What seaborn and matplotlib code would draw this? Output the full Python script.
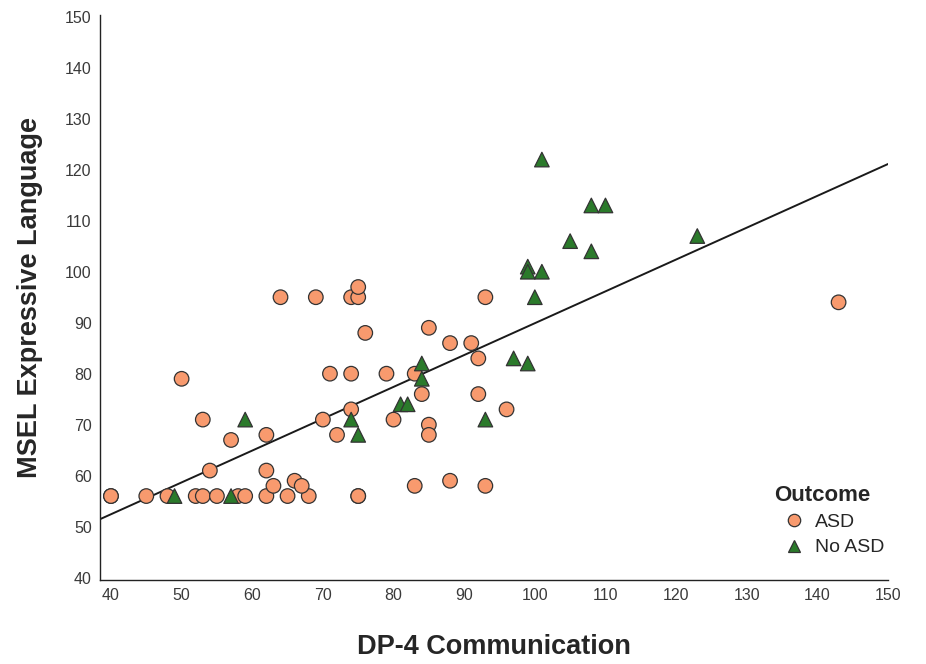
import numpy as np
import pandas as pd
import matplotlib
matplotlib.use('Agg')
import matplotlib.pyplot as plt
import seaborn as sns

# Valores (alguns pontos sobrepostos aparecem duas vezes)
asd_x = [40, 40, 45, 48, 52, 53, 55, 58, 59, 62, 65, 68, 75, 75,
         54, 62, 63, 66, 67, 83, 88, 93,
         64, 69, 74, 75, 75, 50, 53, 57, 62,
         76, 85, 88, 91, 92, 71, 74, 79, 83, 84, 92,
         74, 70, 80, 72, 85, 85, 96, 93, 143]
asd_y = [56, 56, 56, 56, 56, 56, 56, 56, 56, 56, 56, 56, 56, 56,
         61, 61, 58, 59, 58, 58, 59, 58,
         95, 95, 95, 95, 97, 79, 71, 67, 68,
         88, 89, 86, 86, 83, 80, 80, 80, 80, 76, 76,
         73, 71, 71, 68, 70, 68, 73, 95, 94]

noasd_x = [49, 57, 59, 74, 75, 81, 82, 84, 84, 93, 97, 99,
           100, 99, 99, 101, 105, 108, 108, 110, 101, 123]
noasd_y = [56, 56, 71, 71, 68, 74, 74, 82, 79, 71, 83, 82,
           95, 101, 100, 100, 106, 104, 113, 113, 122, 107]

outcome_labels = ['ASD', 'No ASD']
colors = {'ASD': '#F89A6E', 'No ASD': '#2B7A2B'}
markers = {'ASD': 'o', 'No ASD': '^'}

x_ticks = list(range(40, 151, 10))
y_ticks = list(range(40, 151, 10))

df = pd.DataFrame({
    'DP-4 Communication': asd_x + noasd_x,
    'MSEL Expressive Language': asd_y + noasd_y,
    'Outcome': ['ASD'] * len(asd_x) + ['No ASD'] * len(noasd_x),
})

sns.set_style('white')
plt.rcParams['font.family'] = ['Liberation Sans', 'DejaVu Sans']

fig = plt.figure(figsize=(9.26, 6.64), dpi=100)
ax = fig.add_axes([0.108, 0.127, 0.851, 0.85])
ax.set_xlim(38.45, 150)
ax.set_ylim(39.6, 150.3)

sns.scatterplot(data=df, x='DP-4 Communication', y='MSEL Expressive Language',
                hue='Outcome', style='Outcome', hue_order=outcome_labels,
                style_order=outcome_labels, palette=colors, markers=markers,
                s=110, edgecolor='#333333', linewidth=0.9, ax=ax, zorder=3)

# reta de ajuste (todos os casos)
sns.regplot(data=df, x='DP-4 Communication', y='MSEL Expressive Language',
            scatter=False, ci=None, truncate=False,
            line_kws={'color': '#1a1a1a', 'linewidth': 1.4}, ax=ax)

ax.set_xlim(38.45, 150)
ax.set_ylim(39.6, 150.3)
ax.set_xticks(x_ticks)
ax.set_yticks(y_ticks)
ax.tick_params(axis='both', labelsize=11.5, labelcolor='#3a3a3a', length=0, pad=6)

for side in ['top', 'right']:
    ax.spines[side].set_visible(False)
for side in ['left', 'bottom']:
    ax.spines[side].set_color('#222222')
    ax.spines[side].set_linewidth(1.0)

ax.set_xlabel('DP-4 Communication', fontsize=19.5, fontweight='bold', labelpad=22)
ax.set_ylabel('MSEL Expressive Language', fontsize=19.5, fontweight='bold', labelpad=16)

leg = ax.legend(title='Outcome', loc='lower right', frameon=False,
                fontsize=14, title_fontsize=16, markerscale=0.85,
                handletextpad=0.1, labelspacing=0.4, borderaxespad=0.8,
                bbox_to_anchor=(1.025, 0.0))
leg.get_title().set_fontweight('bold')
leg._legend_box.align = 'left'

fig.savefig('out.png', dpi=100)
